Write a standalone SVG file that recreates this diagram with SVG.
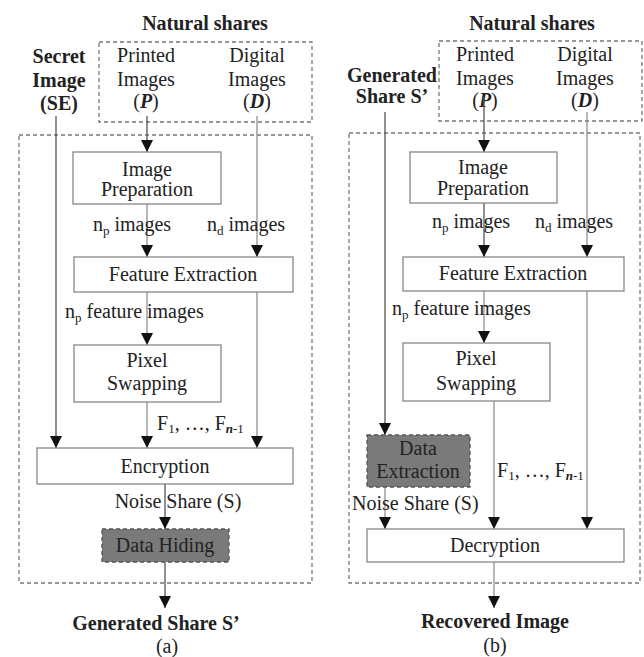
<svg xmlns="http://www.w3.org/2000/svg" width="644" height="657" viewBox="0 0 644 657" font-family="'Liberation Serif', serif">
<style>
text{font-family:'Liberation Serif',serif;font-size:20px;fill:#222}
.b{font-weight:bold}
.m{text-anchor:middle}
.box{fill:#fff;stroke:#888;stroke-width:1.3}
.gbox{fill:#7a7a7a;stroke:#555;stroke-width:1.3;stroke-dasharray:4,3}
.dash{fill:none;stroke:#777;stroke-width:1.3;stroke-dasharray:4,3}
.ln{fill:none;stroke:#555;stroke-width:1.3}
.lt{fill:none;stroke:#888;stroke-width:1.2}
.s{font-size:13px}
</style>
<defs>
<marker id="ah" markerUnits="userSpaceOnUse" markerWidth="12" markerHeight="13" refX="12" refY="6" orient="auto" viewBox="0 0 12 12">
<path d="M0,0 L12,6 L0,12 z" fill="#111"/>
</marker>
</defs>

<!-- Panel (a) -->
<g id="a-frames">
<rect class="dash" x="99" y="42" width="213" height="80"/>
<rect class="dash" x="19" y="135" width="293" height="448"/>
</g>
<g id="a-natural"><text class="b m" x="205" y="30">Natural shares</text></g>
<g id="a-secret">
<text class="b m" x="59" y="63">Secret</text>
<text class="b m" x="59" y="87">Image</text>
<text class="b m" x="59" y="110">(SE)</text>
</g>
<g id="a-printed">
<text class="m" x="146" y="62">Printed</text>
<text class="m" x="146" y="86">Images</text>
<text class="m" x="146" y="108">(<tspan class="b" font-style="italic">P</tspan>)</text>
</g>
<g id="a-digital">
<text class="m" x="257" y="62">Digital</text>
<text class="m" x="257" y="86">Images</text>
<text class="m" x="257" y="108">(<tspan class="b" font-style="italic">D</tspan>)</text>
</g>

<g id="a-connectors">
<line class="ln" x1="56" y1="116" x2="56" y2="448" marker-end="url(#ah)"/>
<line class="ln" x1="147" y1="116" x2="147" y2="152" marker-end="url(#ah)"/>
<line class="lt" x1="147" y1="204" x2="147" y2="257" marker-end="url(#ah)"/>
<line class="lt" x1="257" y1="116" x2="257" y2="257" marker-end="url(#ah)"/>
<line class="lt" x1="147" y1="292" x2="147" y2="345" marker-end="url(#ah)"/>
<line class="lt" x1="257" y1="292" x2="257" y2="448" marker-end="url(#ah)"/>
<line class="lt" x1="147" y1="402" x2="147" y2="448" marker-end="url(#ah)"/>
<line class="ln" x1="165" y1="484" x2="165" y2="529" marker-end="url(#ah)"/>
<line class="ln" x1="165" y1="562" x2="165" y2="608" marker-end="url(#ah)"/>
</g>

<g id="a-prep">
<rect class="box" x="73" y="152" width="148" height="52"/>
<text class="m" x="147" y="176">Image</text>
<text class="m" x="147" y="196">Preparation</text>
</g>
<g id="a-labels1">
<text x="93" y="231">n<tspan class="s" dy="4">p</tspan><tspan dy="-4"> images</tspan></text>
<text x="207" y="231">n<tspan class="s" dy="4">d</tspan><tspan dy="-4"> images</tspan></text>
</g>
<g id="a-feat">
<rect class="box" x="74" y="257" width="219" height="35"/>
<text class="m" x="183" y="281">Feature Extraction</text>
</g>
<g id="a-labels2">
<text x="65" y="318">n<tspan class="s" dy="4">p</tspan><tspan dy="-4"> feature images</tspan></text>
</g>
<g id="a-swap">
<rect class="box" x="74" y="345" width="147" height="57"/>
<text class="m" x="147" y="367">Pixel</text>
<text class="m" x="147" y="390">Swapping</text>
</g>
<g id="a-labels3">
<text x="157" y="430">F<tspan class="s" dy="3">1</tspan><tspan dy="-3">, …, F</tspan><tspan class="s" dy="3"><tspan font-style="italic" class="b">n</tspan>-1</tspan></text>
</g>
<g id="a-enc">
<rect class="box" x="37" y="448" width="256" height="36"/>
<text class="m" x="165" y="473">Encryption</text>
</g>
<g id="a-noise"><text class="m" x="178" y="508">Noise Share (S)</text></g>
<g id="a-hide">
<rect class="gbox" x="102" y="529" width="127" height="33"/>
<text class="m" x="165" y="552">Data Hiding</text>
</g>
<g id="a-out">
<text class="b m" x="156" y="630">Generated Share S’</text>
<text class="m" x="167" y="653">(a)</text>
</g>

<!-- Panel (b) -->
<g id="b-frames">
<rect class="dash" x="439" y="41" width="203" height="80"/>
<rect class="dash" x="349" y="133" width="291" height="450"/>
</g>
<g id="b-natural"><text class="b m" x="532" y="30">Natural shares</text></g>
<g id="b-gen">
<text class="b m" x="392" y="82">Generated</text>
<text class="b m" x="392" y="103">Share S’</text>
</g>
<g id="b-printed">
<text class="m" x="485" y="61">Printed</text>
<text class="m" x="485" y="85">Images</text>
<text class="m" x="485" y="107">(<tspan class="b" font-style="italic">P</tspan>)</text>
</g>
<g id="b-digital">
<text class="m" x="585" y="61">Digital</text>
<text class="m" x="585" y="85">Images</text>
<text class="m" x="585" y="107">(<tspan class="b" font-style="italic">D</tspan>)</text>
</g>

<g id="b-connectors">
<line class="ln" x1="385" y1="112" x2="385" y2="435" marker-end="url(#ah)"/>
<line class="ln" x1="484" y1="97" x2="484" y2="152" marker-end="url(#ah)"/>
<line class="ln" x1="484" y1="203" x2="484" y2="257" marker-end="url(#ah)"/>
<line class="lt" x1="587" y1="112" x2="587" y2="257" marker-end="url(#ah)"/>
<line class="lt" x1="484" y1="291" x2="484" y2="343" marker-end="url(#ah)"/>
<line class="lt" x1="587" y1="291" x2="587" y2="529" marker-end="url(#ah)"/>
<line class="lt" x1="494" y1="401" x2="494" y2="529" marker-end="url(#ah)"/>
<line class="lt" x1="385" y1="487" x2="385" y2="529" marker-end="url(#ah)"/>
<line class="lt" x1="494" y1="562" x2="494" y2="608" marker-end="url(#ah)"/>
</g>

<g id="b-prep">
<rect class="box" x="410" y="152" width="147" height="51"/>
<text class="m" x="483" y="174">Image</text>
<text class="m" x="483" y="195">Preparation</text>
</g>
<g id="b-labels1">
<text x="432" y="228">n<tspan class="s" dy="4">p</tspan><tspan dy="-4"> images</tspan></text>
<text x="535" y="228">n<tspan class="s" dy="4">d</tspan><tspan dy="-4"> images</tspan></text>
</g>
<g id="b-feat">
<rect class="box" x="403" y="257" width="221" height="34"/>
<text class="m" x="513" y="280">Feature Extraction</text>
</g>
<g id="b-labels2">
<text x="392" y="315">n<tspan class="s" dy="4">p</tspan><tspan dy="-4"> feature images</tspan></text>
</g>
<g id="b-swap">
<rect class="box" x="403" y="343" width="147" height="58"/>
<text class="m" x="476" y="365">Pixel</text>
<text class="m" x="476" y="390">Swapping</text>
</g>
<g id="b-extract">
<rect class="gbox" x="367" y="435" width="103" height="52"/>
<text class="m" x="418" y="455">Data</text>
<text class="m" x="418" y="478">Extraction</text>
</g>
<g id="b-labels3">
<text x="497" y="477">F<tspan class="s" dy="3">1</tspan><tspan dy="-3">, …, F</tspan><tspan class="s" dy="3"><tspan font-style="italic" class="b">n</tspan>-1</tspan></text>
</g>
<g id="b-noise"><text x="352" y="510">Noise Share (S)</text></g>
<g id="b-dec">
<rect class="box" x="367" y="529" width="257" height="33"/>
<text class="m" x="495" y="552">Decryption</text>
</g>
<g id="b-out">
<text class="b m" x="495" y="628">Recovered Image</text>
<text class="m" x="495" y="652">(b)</text>
</g>
</svg>
